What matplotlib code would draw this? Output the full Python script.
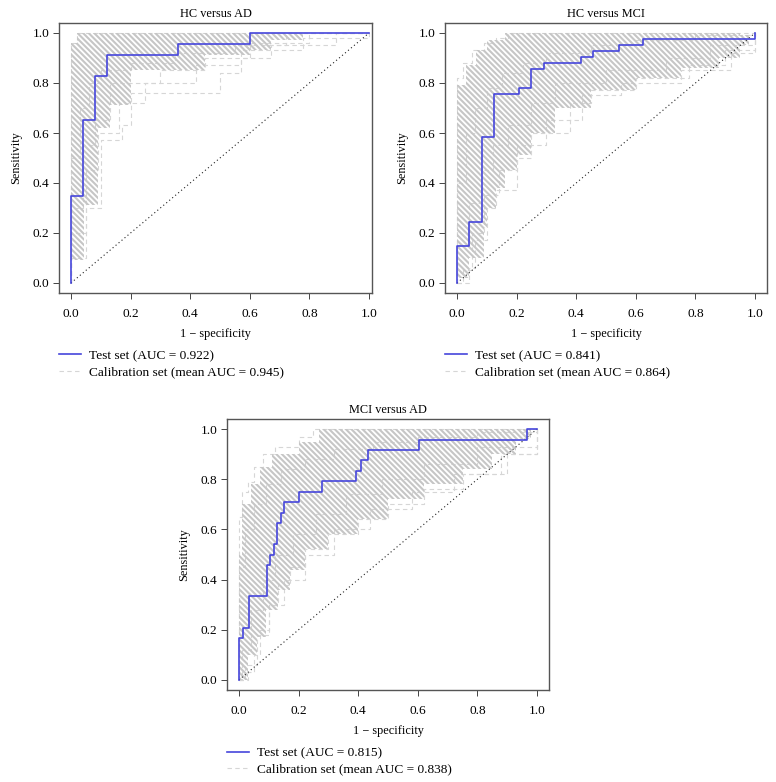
import matplotlib
matplotlib.use("Agg")
import matplotlib.pyplot as plt
from matplotlib.lines import Line2D

plt.rcParams["font.family"] = ["Liberation Serif", "DejaVu Serif"]
plt.rcParams["hatch.linewidth"] = 1.5

titles = ["HC versus AD", "HC versus MCI", "MCI versus AD"]
test_auc = [0.922, 0.841, 0.815]
cal_auc = [0.945, 0.864, 0.838]
tick_vals = [0.0, 0.2, 0.4, 0.6, 0.8, 1.0]
tick_labels = ["0.0", "0.2", "0.4", "0.6", "0.8", "1.0"]

# test set ROC corners (steps-post)
test_fpr_1 = [0, 0, 0.04, 0.08, 0.12, 0.36, 0.60, 1.0]
test_tpr_1 = [0, 0.348, 0.652, 0.826, 0.913, 0.957, 1.0, 1.0]
test_fpr_2 = [0, 0, 0.042, 0.083, 0.125, 0.208, 0.25, 0.292, 0.417, 0.458, 0.542, 0.625, 1.0]
test_tpr_2 = [0, 0.146, 0.244, 0.585, 0.756, 0.780, 0.854, 0.878, 0.902, 0.927, 0.951, 0.976, 1.0]
test_fpr_3 = [0, 0, 0.013, 0.035, 0.094, 0.104, 0.118, 0.128, 0.141, 0.151, 0.20, 0.28,
              0.394, 0.408, 0.432, 0.604, 0.966, 1.0]
test_tpr_3 = [0, 0.167, 0.208, 0.333, 0.458, 0.50, 0.542, 0.625, 0.667, 0.708, 0.75, 0.792,
              0.833, 0.875, 0.917, 0.958, 1.0, 1.0]

# calibration band (hatched), step-post envelopes
band_fpr_1 = [0, 0.02, 0.045, 0.09, 0.13, 0.20, 0.45, 0.60, 0.67, 0.78, 1.0]
band_lo_1 = [0.09, 0.09, 0.31, 0.62, 0.71, 0.85, 0.91, 0.93, 0.97, 1.0, 1.0]
band_hi_1 = [0.96, 1.0, 1.0, 1.0, 1.0, 1.0, 1.0, 1.0, 1.0, 1.0, 1.0]
band_fpr_2 = [0, 0.03, 0.04, 0.065, 0.09, 0.10, 0.13, 0.16, 0.20, 0.25, 0.33, 0.45, 0.60,
              0.75, 0.88, 0.95, 0.98]
band_lo_2 = [0.02, 0.02, 0.10, 0.10, 0.22, 0.30, 0.38, 0.45, 0.51, 0.60, 0.70, 0.77, 0.82,
             0.86, 0.90, 0.95, 0.99]
band_hi_2 = [0.79, 0.87, 0.87, 0.93, 0.93, 0.97, 0.97, 1.0, 1.0, 1.0, 1.0, 1.0, 1.0,
             1.0, 1.0, 0.99, 0.99]
band_fpr_3 = [0, 0.01, 0.03, 0.04, 0.06, 0.07, 0.09, 0.11, 0.13, 0.17, 0.20, 0.22, 0.27,
              0.30, 0.40, 0.50, 0.62, 0.75, 0.85, 0.93, 0.98]
band_lo_3 = [0.0, 0.0, 0.10, 0.10, 0.17, 0.17, 0.28, 0.28, 0.36, 0.44, 0.44, 0.52, 0.52,
             0.58, 0.64, 0.72, 0.78, 0.84, 0.90, 0.96, 0.99]
band_hi_3 = [0.50, 0.70, 0.70, 0.78, 0.78, 0.85, 0.85, 0.90, 0.90, 0.90, 0.95, 0.95, 1.0,
             1.0, 1.0, 1.0, 1.0, 1.0, 1.0, 1.0, 1.0]

# a few calibration ROC curves (dashed)
cal_curves_1 = [
    ([0, 0, 0.05, 0.10, 0.17, 0.20, 0.50, 0.57, 0.67, 0.89, 1.0],
     [0, 0.10, 0.30, 0.57, 0.63, 0.76, 0.84, 0.90, 0.95, 1.0, 1.0]),
    ([0, 0, 0.04, 0.08, 0.13, 0.30, 0.45, 0.60, 0.80, 1.0],
     [0, 0.30, 0.55, 0.65, 0.80, 0.85, 0.90, 0.96, 1.0, 1.0]),
    ([0, 0, 0.02, 1.0], [0, 0.96, 1.0, 1.0]),
    ([0, 0, 0.03, 0.06, 0.10, 0.20, 0.35, 0.55, 0.72, 1.0],
     [0, 0.50, 0.70, 0.80, 0.85, 0.88, 0.92, 0.95, 1.0, 1.0]),
    ([0, 0, 0.05, 0.09, 0.16, 0.25, 0.42, 0.57, 0.78, 1.0],
     [0, 0.20, 0.45, 0.60, 0.72, 0.80, 0.87, 0.93, 0.98, 1.0]),
]
cal_curves_2 = [
    ([0, 0.04, 0.06, 0.10, 0.13, 0.20, 0.25, 0.38, 0.45, 0.60, 0.78, 0.90, 1.0],
     [0, 0.06, 0.17, 0.30, 0.37, 0.50, 0.60, 0.72, 0.77, 0.82, 0.87, 0.93, 1.0]),
    ([0, 0, 0.02, 0.05, 0.09, 0.13, 0.17, 1.0],
     [0, 0.82, 0.88, 0.93, 0.96, 0.98, 1.0, 1.0]),
    ([0, 0, 0.03, 0.06, 0.10, 0.15, 0.22, 0.30, 0.45, 0.60, 0.80, 1.0],
     [0, 0.40, 0.60, 0.70, 0.78, 0.84, 0.88, 0.92, 0.95, 0.97, 0.99, 1.0]),
    ([0, 0, 0.04, 0.08, 0.12, 0.17, 0.25, 0.33, 0.50, 0.70, 0.85, 1.0],
     [0, 0.15, 0.32, 0.45, 0.55, 0.63, 0.72, 0.80, 0.85, 0.90, 0.95, 1.0]),
    ([0, 0.02, 0.05, 0.09, 0.14, 0.20, 0.30, 0.42, 0.55, 0.75, 0.92, 1.0],
     [0, 0.05, 0.20, 0.35, 0.45, 0.55, 0.65, 0.75, 0.80, 0.85, 0.92, 1.0]),
]
cal_curves_3 = [
    ([0, 0.03, 0.05, 0.07, 0.10, 0.13, 0.17, 0.22, 0.30, 0.40, 0.50, 0.62, 0.75, 0.90, 1.0],
     [0, 0.03, 0.10, 0.20, 0.30, 0.38, 0.45, 0.52, 0.58, 0.64, 0.70, 0.76, 0.82, 0.90, 1.0]),
    ([0, 0, 0.01, 0.03, 0.05, 0.08, 0.12, 0.20, 0.25, 1.0],
     [0, 0.65, 0.75, 0.79, 0.85, 0.90, 0.93, 0.97, 1.0, 1.0]),
    ([0, 0, 0.02, 0.05, 0.09, 0.14, 0.22, 0.32, 0.45, 0.60, 0.80, 1.0],
     [0, 0.45, 0.60, 0.70, 0.78, 0.84, 0.88, 0.92, 0.95, 0.97, 0.99, 1.0]),
    ([0, 0.01, 0.04, 0.08, 0.12, 0.18, 0.26, 0.36, 0.48, 0.62, 0.80, 1.0],
     [0, 0.12, 0.28, 0.40, 0.50, 0.58, 0.66, 0.74, 0.80, 0.86, 0.93, 1.0]),
    ([0, 0.02, 0.06, 0.10, 0.15, 0.22, 0.32, 0.44, 0.58, 0.72, 0.88, 1.0],
     [0, 0.06, 0.18, 0.30, 0.40, 0.50, 0.60, 0.68, 0.75, 0.82, 0.90, 1.0]),
]

panels = [
    (test_fpr_1, test_tpr_1, band_fpr_1, band_lo_1, band_hi_1, cal_curves_1),
    (test_fpr_2, test_tpr_2, band_fpr_2, band_lo_2, band_hi_2, cal_curves_2),
    (test_fpr_3, test_tpr_3, band_fpr_3, band_lo_3, band_hi_3, cal_curves_3),
]

W, H = 776, 782
# axes boxes in pixels: left, top, right, bottom
boxes = [(59, 23, 372, 293), (445, 23, 767, 293), (227, 419, 549, 690)]
xlims = [(-0.04, 1.01), (-0.04, 1.04), (-0.04, 1.04)]

blue = "#4646dc"
hatch_gray = "#c6c6c6"
dash_gray = "#d6d6d6"
fs_title = 8.8
fs = 9.6

fig = plt.figure(figsize=(W / 100, H / 100), dpi=100)

for i, (tf, tt, bf, blo, bhi, cals) in enumerate(panels):
    l, t, r, b = boxes[i]
    ax = fig.add_axes([l / W, 1 - b / H, (r - l) / W, (b - t) / H])

    for cf, ct in cals:
        ax.plot(cf, ct, drawstyle="steps-post", color=dash_gray, lw=0.8,
                dashes=(4, 3), zorder=1)
    ax.fill_between(bf, blo, bhi, step="post", facecolor="none",
                    edgecolor=hatch_gray, linewidth=0, hatch="\\" * 6, zorder=2)
    ax.plot([0, 1], [0, 1], color="#222222", lw=0.8, linestyle=(0, (1, 2.5)), zorder=3)
    ax.plot(tf, tt, drawstyle="steps-post", color=blue, lw=1.2, zorder=4)

    ax.set_xlim(*xlims[i])
    ax.set_ylim(-0.04, 1.04)
    ax.set_xticks(tick_vals)
    ax.set_xticklabels(tick_labels)
    ax.set_yticks(tick_vals)
    ax.set_yticklabels(tick_labels)
    ax.tick_params(direction="out", length=4.5, width=0.7, color="#444444",
                   labelsize=fs)
    ax.tick_params(axis="x", pad=6)
    ax.tick_params(axis="y", pad=2.5)
    for s in ax.spines.values():
        s.set_color("#555555")
        s.set_linewidth(1.0)
    ax.set_title(titles[i], fontsize=fs_title, pad=4)
    ax.set_xlabel("1 \u2212 specificity", fontsize=fs_title, labelpad=6)
    ax.set_ylabel("Sensitivity", fontsize=fs_title, labelpad=7.5)

    handles = [
        Line2D([], [], color=blue, lw=1.2),
        Line2D([], [], color=dash_gray, lw=0.8, dashes=(4, 3)),
    ]
    labels = ["Test set (AUC = %.3f)" % test_auc[i],
              "Calibration set (mean AUC = %.3f)" % cal_auc[i]]
    ax.legend(handles, labels, loc="upper left", bbox_to_anchor=(0, -0.21),
              frameon=False, fontsize=fs, handlelength=1.65, handletextpad=0.6,
              labelspacing=0.3, borderaxespad=0, borderpad=0)

fig.savefig("out.png", dpi=100)
